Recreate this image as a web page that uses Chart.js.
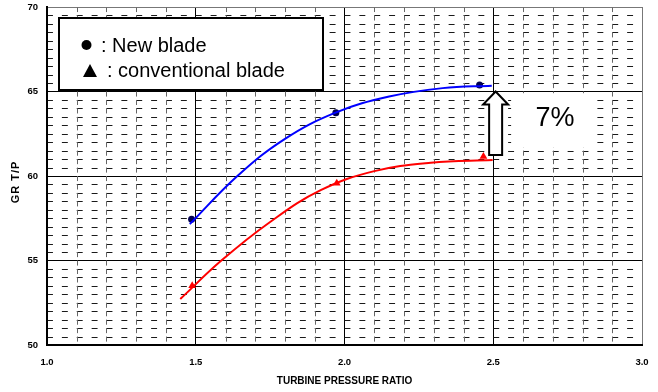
<!DOCTYPE html>
<html>
<head>
<meta charset="utf-8">
<script src="https://cdn.jsdelivr.net/npm/chart.js@4.4.1/dist/chart.umd.min.js"></script>
<style>
  html, body { margin: 0; padding: 0; background: #fff; }
  #wrap { width: 658px; height: 392px; position: relative; }
</style>
</head>
<body>
<div id="wrap"><canvas id="c"></canvas></div>
<script>
// GR T/P against turbine pressure ratio, new vs conventional blade
const xTickLabels = ['1.0', '1.5', '2.0', '2.5', '3.0'];
const yTickLabels = ['50', '55', '60', '65', '70'];

// measured points
const newBladeX = [1.486, 1.971, 2.454];
const newBladeY = [57.44, 63.75, 65.38];
const convBladeX = [1.488, 1.974, 2.467];
const convBladeY = [53.51, 59.57, 61.16];

// fitted trend curves
const newFitX = [1.480, 1.640, 1.800, 1.970, 2.150, 2.330, 2.495];
const newFitY = [57.15, 60.00, 62.20, 63.75, 64.70, 65.20, 65.34];
const convFitX = [1.448, 1.587, 1.750, 1.920, 2.100, 2.290, 2.498];
const convFitY = [52.72, 55.01, 57.28, 59.16, 60.29, 60.79, 60.95];

const legendNew = 'New blade';
const legendConv = 'conventional blade';
const gainLabel = '7%';
const gainAt = 2.508, gainFrom = 61.25, gainTo = 65.0;

const zip = (xs, ys) => xs.map((v, i) => ({ x: v, y: ys[i] }));
const FONT = 'Arial, "Liberation Sans", sans-serif';

// dashed minor grid plus the blank panel behind the gain label
const minorGrid = {
  id: 'minorGrid',
  beforeDatasetsDraw(chart) {
    const { ctx, chartArea: a, scales: { x, y } } = chart;
    ctx.save();
    ctx.beginPath();
    ctx.rect(a.left + 1, a.top + 0.5, a.right - a.left - 1.5, a.bottom - a.top - 1.5);
    ctx.clip();
    ctx.lineWidth = 1;

    const colW = x.getPixelForValue(1.1) - x.getPixelForValue(1.0);
    ctx.strokeStyle = '#1a1a1a';
    ctx.setLineDash([colW * 0.2, colW * 0.3]);
    ctx.beginPath();
    for (let i = 1; i < 40; i++) {
      if (i % 10 === 0) continue;
      const py = Math.round(y.getPixelForValue(50 + i * 0.5)) + 0.5;
      ctx.moveTo(a.left, py);
      ctx.lineTo(a.right, py);
    }
    ctx.stroke();

    const rowH = y.getPixelForValue(50) - y.getPixelForValue(50.5);
    ctx.strokeStyle = '#666';
    ctx.setLineDash([rowH * 0.6, rowH * 0.4]);
    ctx.beginPath();
    for (let i = 1; i < 20; i++) {
      if (i % 5 === 0) continue;
      const px = Math.round(x.getPixelForValue(1 + i * 0.1)) + 0.5;
      ctx.moveTo(px, a.top);
      ctx.lineTo(px, a.bottom);
    }
    ctx.stroke();
    ctx.restore();

    // white panel for the percentage label
    const l = x.getPixelForValue(2.56), r = x.getPixelForValue(2.84);
    const t = y.getPixelForValue(64.9), b = y.getPixelForValue(61.7);
    ctx.save();
    ctx.fillStyle = '#fff';
    ctx.fillRect(l, t, r - l, b - t);
    ctx.restore();
  }
};

// arrow, percentage, legend box and vertical axis title
const annotations = {
  id: 'annotations',
  afterDatasetsDraw(chart) {
    const { ctx, chartArea: a, scales: { x, y } } = chart;

    // hollow arrow between the two curves
    const px = x.getPixelForValue(gainAt);
    const tipY = y.getPixelForValue(gainTo);
    const baseY = y.getPixelForValue(gainFrom);
    const headH = 13, headW = 12.5, shaftW = 6.5;
    ctx.save();
    ctx.beginPath();
    ctx.moveTo(px, tipY);
    ctx.lineTo(px + headW, tipY + headH);
    ctx.lineTo(px + shaftW, tipY + headH);
    ctx.lineTo(px + shaftW, baseY);
    ctx.lineTo(px - shaftW, baseY);
    ctx.lineTo(px - shaftW, tipY + headH);
    ctx.lineTo(px - headW, tipY + headH);
    ctx.closePath();
    ctx.fillStyle = '#fff';
    ctx.fill();
    ctx.lineWidth = 2;
    ctx.lineJoin = 'miter';
    ctx.strokeStyle = '#000';
    ctx.stroke();

    // percentage
    ctx.fillStyle = '#000';
    ctx.font = '27px ' + FONT;
    ctx.textBaseline = 'alphabetic';
    ctx.textAlign = 'left';
    ctx.fillText(gainLabel, x.getPixelForValue(2.642), y.getPixelForValue(62.98));

    // legend box
    const bx = a.left + 12, by = a.top + 11, bw = 264, bh = 72;
    ctx.fillStyle = '#fff';
    ctx.fillRect(bx, by, bw, bh);
    ctx.lineWidth = 2;
    ctx.strokeStyle = '#000';
    ctx.strokeRect(bx, by, bw, bh);

    ctx.fillStyle = '#000';
    ctx.beginPath();
    ctx.arc(bx + 27.5, by + 27, 5, 0, Math.PI * 2);
    ctx.fill();
    ctx.beginPath();
    ctx.moveTo(bx + 31, by + 46);
    ctx.lineTo(bx + 38, by + 59);
    ctx.lineTo(bx + 24, by + 59);
    ctx.closePath();
    ctx.fill();
    ctx.font = '20px ' + FONT;
    ctx.fillText(': ' + legendNew, bx + 42, by + 34);
    ctx.fillText(': ' + legendConv, bx + 48, by + 59);

    // vertical axis title
    ctx.translate(15.5, 182);
    ctx.rotate(-Math.PI / 2);
    ctx.font = 'bold 11px ' + FONT;
    if ('letterSpacing' in ctx) ctx.letterSpacing = '1px';
    ctx.textAlign = 'center';
    ctx.textBaseline = 'middle';
    ctx.fillText('GR T/P', 0, 0);
    ctx.restore();
  }
};

const tickFont = { family: FONT, size: 9.5, weight: 'bold' };

new Chart(document.getElementById('c'), {
  type: 'scatter',
  data: {
    datasets: [
      {
        label: legendNew + ' trend',
        data: zip(newFitX, newFitY),
        showLine: true,
        borderColor: '#0000ff',
        borderWidth: 2,
        pointRadius: 0,
        tension: 0.4
      },
      {
        label: legendConv + ' trend',
        data: zip(convFitX, convFitY),
        showLine: true,
        borderColor: '#ff0000',
        borderWidth: 2,
        pointRadius: 0,
        tension: 0.4
      },
      {
        label: legendNew,
        data: zip(newBladeX, newBladeY),
        pointStyle: 'circle',
        pointRadius: 3.5,
        backgroundColor: '#000050',
        borderColor: '#000050',
        borderWidth: 0
      },
      {
        label: legendConv,
        data: zip(convBladeX, convBladeY),
        pointStyle: 'triangle',
        pointRadius: 4.5,
        backgroundColor: '#ff0000',
        borderColor: '#ff0000',
        borderWidth: 0
      }
    ]
  },
  options: {
    responsive: true,
    maintainAspectRatio: false,
    animation: false,
    events: [],
    layout: { padding: 0 },
    plugins: { legend: { display: false }, tooltip: { enabled: false } },
    scales: {
      x: {
        type: 'linear',
        min: 1, max: 3,
        afterFit(s) {
          s.height = 47;
          s.paddingLeft = 0;
          s.paddingRight = 16;
        },
        ticks: {
          stepSize: 0.5,
          autoSkip: false,
          maxRotation: 0,
          padding: 12,
          color: '#000',
          font: tickFont,
          callback: v => xTickLabels[Math.round((v - 1) / 0.5)]
        },
        grid: {
          drawTicks: false,
          lineWidth: 1,
          color: c => (c.tick && c.tick.value === 3 ? '#777' : '#000')
        },
        border: { color: '#000', width: 2 },
        title: {
          display: true,
          text: 'TURBINE PRESSURE RATIO',
          color: '#000',
          font: { family: FONT, size: 10, weight: 'bold' },
          padding: { top: 0, bottom: 5 }
        }
      },
      y: {
        type: 'linear',
        min: 50, max: 70,
        afterFit(s) {
          s.width = 47;
          s.paddingTop = 7;
          s.paddingBottom = 0;
        },
        ticks: {
          stepSize: 5,
          autoSkip: false,
          padding: 9,
          color: '#000',
          font: tickFont,
          callback: v => yTickLabels[Math.round((v - 50) / 5)]
        },
        grid: {
          drawTicks: false,
          lineWidth: 1,
          color: c => (c.tick && c.tick.value === 70 ? '#777' : '#000')
        },
        border: { color: '#000', width: 2 }
      }
    }
  },
  plugins: [minorGrid, annotations]
});
</script>
</body>
</html>
